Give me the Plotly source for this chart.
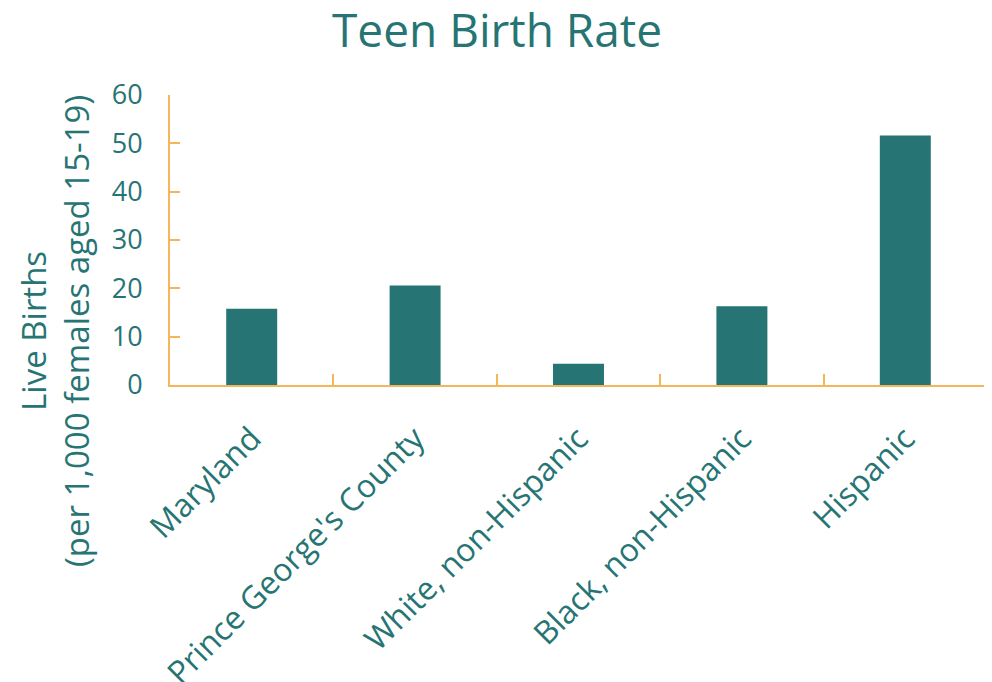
import plotly.graph_objects as go

categories = ["Maryland", "Prince George's County", "White, non-Hispanic", "Black, non-Hispanic", "Hispanic"]
rates = [15.8, 20.6, 4.4, 16.3, 51.6]
y_ticks = [0, 10, 20, 30, 40, 50, 60]

TEAL = "#267574"
ORANGE = "#F5B55A"
FONT = "Open Sans"

fig = go.Figure(go.Bar(x=categories, y=rates, marker=dict(color=TEAL, line=dict(width=0))))

fig.update_layout(
    width=992, height=682,
    margin=dict(l=162, r=13, t=87, b=305, autoexpand=False),
    paper_bgcolor="white", plot_bgcolor="white",
    bargap=0.688,
    showlegend=False,
    font=dict(family=FONT, color=TEAL, size=27),
    title=dict(text="Teen Birth Rate", x=0.493, xref="container", xanchor="center",
               y=0.966, yanchor="middle", font=dict(size=46, color=TEAL, family=FONT)),
)
fig.update_xaxes(
    showline=True, linecolor=ORANGE, linewidth=2,
    ticks="inside", ticklen=11, tickcolor=ORANGE, tickwidth=2,
    tickson="boundaries", tickangle=-45, showgrid=False,
    tickfont=dict(size=32, color=TEAL), ticklabelstandoff=20, automargin=False,
)
fig.update_yaxes(
    range=[0, 60], tickvals=y_ticks, showline=True, linecolor=ORANGE, linewidth=2,
    ticks="inside", ticklen=10, tickcolor=ORANGE, tickwidth=2, showgrid=False,
    zeroline=False, tickfont=dict(size=27, color=TEAL), ticklabelstandoff=20, automargin=False,
)
fig.add_annotation(
    text="Live Births<br>(per 1,000 females aged 15-19)", textangle=-90,
    xref="paper", yref="paper", x=-0.14, y=0.185, xanchor="center", yanchor="middle",
    showarrow=False, font=dict(size=33, color=TEAL, family=FONT),
)
fig.write_html("out.html")
